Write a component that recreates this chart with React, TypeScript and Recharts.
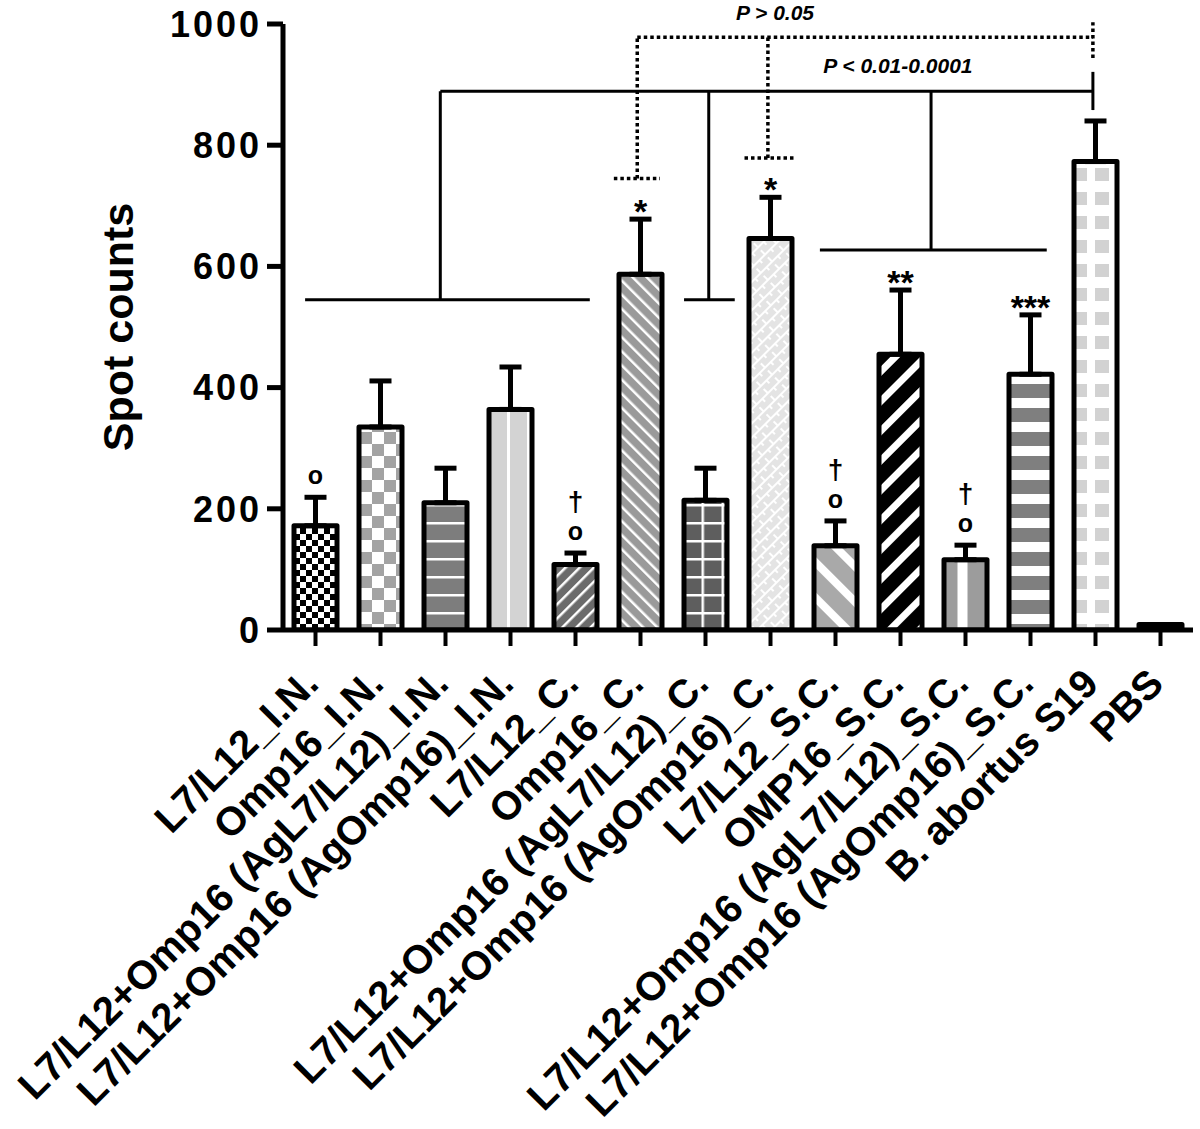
import React from 'react';
import { BarChart, Bar, XAxis, YAxis, ErrorBar, Cell, LabelList, ReferenceLine, ReferenceDot } from 'recharts';

const FONT = "Arial, 'Liberation Sans', sans-serif";

const groups = [
  'L7/L12_I.N.',
  'Omp16_I.N.',
  'L7/L12+Omp16 (AgL7/L12)_I.N.',
  'L7/L12+Omp16 (AgOmp16)_I.N.',
  'L7/L12_C.',
  'Omp16_C.',
  'L7/L12+Omp16 (AgL7/L12)_C.',
  'L7/L12+Omp16 (AgOmp16)_C.',
  'L7/L12_S.C.',
  'OMP16_S.C.',
  'L7/L12+Omp16 (AgL7/L12)_S.C.',
  'L7/L12+Omp16 (AgOmp16)_S.C.',
  'B. abortus S19',
  'PBS',
];
const spotCounts = [172, 335, 210, 364, 108, 587, 214, 646, 139, 455, 116, 422, 773, 9];
const spotSem = [47, 76, 57, 70, 19, 91, 53, 68, 41, 106, 24, 98, 67, 0];
const sigMarks = ['o', '', '', '', '†o', '*', '', '*', '†o', '**', '†o', '***', '', ''];
const yTicks = [0, 200, 400, 600, 800, 1000];

// bracket annotations, in (slot, spot count) coordinates; slot i+0.5 is bar i
const solidBrackets = [
  [[0.34, 545], [4.72, 545]],
  [[2.42, 545], [2.42, 889]],
  [[6.17, 545], [6.95, 545]],
  [[6.55, 545], [6.55, 889]],
  [[8.26, 627], [11.75, 627]],
  [[9.97, 627], [9.97, 889]],
  [[2.42, 889], [12.46, 889]],
  [[12.46, 858], [12.46, 921]],
];
const dottedBrackets = [
  [[5.45, 978], [12.46, 978]],
  [[5.45, 745], [5.45, 978]],
  [[5.09, 745], [5.8, 745]],
  [[7.46, 779], [7.46, 978]],
  [[7.1, 779], [7.9, 779]],
  [[12.46, 944], [12.46, 1003]],
];
const pNotes = [
  { text: 'P > 0.05', x: 7.57, y: 1019 },
  { text: 'P < 0.01-0.0001', x: 9.46, y: 931 },
];

const fills = ['url(#p1)', 'url(#p2)', 'url(#p3)', 'url(#p4)', 'url(#p5)', 'url(#p6)', 'url(#p7)',
  'url(#p8)', 'url(#p9)', 'url(#p10)', 'url(#p11)', 'url(#p12)', 'url(#p13)', '#000'];

const data = groups.map((g, i) => ({
  name: g,
  slot: i + 0.5,
  value: spotCounts[i],
  err: [0, spotSem[i]],
  mark: sigMarks[i],
}));

const GroupTick = (props: any) => {
  const { x, y, payload } = props;
  const tx = x + 5;
  const ty = y + 38;
  return (
    <text x={tx} y={ty} transform={`rotate(-45, ${tx}, ${ty})`} textAnchor="end"
      fontSize={40} fontWeight="bold" fontFamily={FONT} fill="#000">
      {payload.value}
    </text>
  );
};

const MarkLabel = (props: any) => {
  const { x, y, width, height, index } = props;
  const mark = sigMarks[index];
  if (!mark) return null;
  const perUnit = height / spotCounts[index];
  const errTop = y - spotSem[index] * perUnit;
  const cx = x + width / 2;
  if (mark.includes('*')) {
    return (
      <text x={cx} y={errTop + 4} textAnchor="middle" fontSize={34} fontWeight="bold" fontFamily={FONT} fill="#000">
        {mark}
      </text>
    );
  }
  return (
    <g>
      <text x={cx} y={errTop - 13} textAnchor="middle" fontSize={25} fontWeight="bold" fontFamily={FONT} fill="#000">o</text>
      {mark.includes('†') && (
        <text x={cx} y={errTop - 42} textAnchor="middle" fontSize={28} fontWeight="bold" fontFamily={FONT} fill="#000">†</text>
      )}
    </g>
  );
};

const Patterns = () => (
  <defs>
    <pattern id="p1" width={12} height={12} patternUnits="userSpaceOnUse">
      <rect width={12} height={12} fill="#fff" />
      <rect width={6} height={6} fill="#000" />
      <rect x={6} y={6} width={6} height={6} fill="#000" />
    </pattern>
    <pattern id="p2" width={24} height={24} patternUnits="userSpaceOnUse">
      <rect width={24} height={24} fill="#fff" />
      <rect width={12} height={12} fill="#a3a3a3" />
      <rect x={12} y={12} width={12} height={12} fill="#a3a3a3" />
    </pattern>
    <pattern id="p3" width={10} height={18} patternUnits="userSpaceOnUse">
      <rect width={10} height={18} fill="#7d7d7d" />
      <rect width={10} height={2.5} fill="#fff" />
    </pattern>
    <pattern id="p4" x={507} width={20} height={10} patternUnits="userSpaceOnUse">
      <rect width={20} height={10} fill="#d3d3d3" />
      <rect width={3} height={10} fill="#fff" />
    </pattern>
    <pattern id="p5" width={10} height={10} patternUnits="userSpaceOnUse" patternTransform="rotate(45)">
      <rect width={10} height={10} fill="#6b6b6b" />
      <rect width={2.5} height={10} fill="#fff" />
    </pattern>
    <pattern id="p6" width={10} height={10} patternUnits="userSpaceOnUse" patternTransform="rotate(-45)">
      <rect width={10} height={10} fill="#9a9a9a" />
      <rect width={2.5} height={10} fill="#fff" />
    </pattern>
    <pattern id="p7" x={701.5} width={20} height={18} patternUnits="userSpaceOnUse">
      <rect width={20} height={18} fill="#5e5e5e" />
      <rect width={2.5} height={18} fill="#fff" />
      <rect width={20} height={2.5} fill="#fff" />
    </pattern>
    <pattern id="p8" width={16} height={10} patternUnits="userSpaceOnUse" patternTransform="rotate(-45)">
      <rect width={16} height={10} fill="#e4e4e4" />
      <rect width={16} height={2} fill="#fff" />
      <rect width={2} height={5} fill="#fff" />
      <rect x={8} y={5} width={2} height={5} fill="#fff" />
    </pattern>
    <pattern id="p9" width={25} height={25} patternUnits="userSpaceOnUse" patternTransform="rotate(-45)">
      <rect width={25} height={25} fill="#a9a9a9" />
      <rect width={8} height={25} fill="#fff" />
    </pattern>
    <pattern id="p10" width={21} height={21} patternUnits="userSpaceOnUse" patternTransform="rotate(45)">
      <rect width={21} height={21} fill="#000" />
      <rect width={7} height={21} fill="#fff" />
    </pattern>
    <pattern id="p11" x={943.5} width={44} height={10} patternUnits="userSpaceOnUse">
      <rect width={44} height={10} fill="#9c9c9c" />
      <rect x={14} width={10} height={10} fill="#fff" />
    </pattern>
    <pattern id="p12" width={10} height={24} patternUnits="userSpaceOnUse">
      <rect width={10} height={24} fill="#fff" />
      <rect width={10} height={14} fill="#7f7f7f" />
    </pattern>
    <pattern id="p13" x={1073} width={22} height={24} patternUnits="userSpaceOnUse">
      <rect width={22} height={24} fill="#fff" />
      <rect width={14} height={13} fill="#d2d2d2" />
    </pattern>
  </defs>
);

export default function App() {
  return (
    <div style={{ width: 1200, height: 1129, background: '#fff' }}>
      <style>{'body{margin:0}'}</style>
      <BarChart width={1200} height={1129} data={data} margin={{ top: 24, right: 7, bottom: 0, left: 0 }} barCategoryGap={0}>
        <Patterns />
        <XAxis dataKey="name" height={499} interval={0} tick={<GroupTick />}
          axisLine={{ stroke: '#000', strokeWidth: 5 }} tickLine={{ stroke: '#000', strokeWidth: 4 }}
          tickSize={16} tickMargin={2} />
        <XAxis xAxisId="slot" dataKey="slot" type="number" domain={[0, 14]} allowDataOverflow hide />
        <YAxis width={283} domain={[0, 1000]} ticks={yTicks} allowDataOverflow interval={0}
          axisLine={{ stroke: '#000', strokeWidth: 5 }} tickLine={{ stroke: '#000', strokeWidth: 5 }}
          tickSize={16} tickMargin={5}
          tick={{ fontSize: 36, fontWeight: 'bold', fill: '#000', fontFamily: FONT, letterSpacing: 3 }}
          label={{
            content: (p: any) => {
              const vb = p.viewBox || { x: 0, y: 24, width: 283, height: 606 };
              const lx = vb.x + 118;
              const ly = vb.y + vb.height / 2;
              return (
                <text x={lx} y={ly} transform={`rotate(-90, ${lx}, ${ly})`} textAnchor="middle"
                  dominantBaseline="central" fontSize={43} fontWeight="bold" fontFamily={FONT} fill="#000">
                  Spot counts
                </text>
              );
            },
          }} />
        <Bar dataKey="value" barSize={43} stroke="#000" strokeWidth={5} strokeLinejoin="round" isAnimationActive={false}>
          {data.map((d, i) => (
            <Cell key={d.name} fill={fills[i]} />
          ))}
          <ErrorBar dataKey="err" width={11} stroke="#000" strokeWidth={5} direction="y" />
          <LabelList dataKey="mark" content={<MarkLabel />} />
        </Bar>
        {solidBrackets.map((s, i) => (
          <ReferenceLine key={'s' + i} xAxisId="slot" ifOverflow="visible" stroke="#000" strokeWidth={3}
            segment={[{ x: s[0][0], y: s[0][1] }, { x: s[1][0], y: s[1][1] }]} />
        ))}
        {dottedBrackets.map((s, i) => (
          <ReferenceLine key={'d' + i} xAxisId="slot" ifOverflow="visible" stroke="#000" strokeWidth={3.5}
            strokeDasharray="3.5 3"
            segment={[{ x: s[0][0], y: s[0][1] }, { x: s[1][0], y: s[1][1] }]} />
        ))}
        {pNotes.map((n) => (
          <ReferenceDot key={n.text} xAxisId="slot" x={n.x} y={n.y} r={1} fill="none" stroke="none" ifOverflow="visible"
            label={{ value: n.text, position: 'center', fontSize: 21, fontWeight: 'bold', fontStyle: 'italic', fill: '#000', fontFamily: FONT }} />
        ))}
      </BarChart>
    </div>
  );
}
